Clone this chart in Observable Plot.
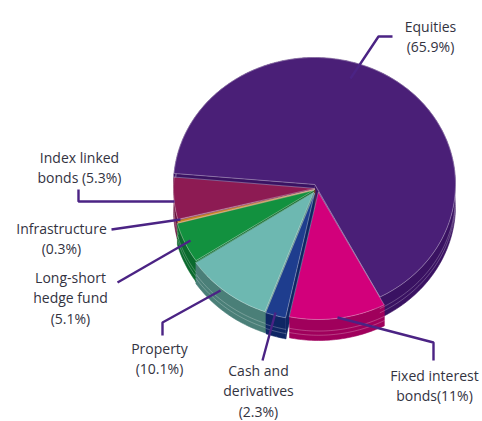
<!DOCTYPE html>
<html>
<head>
<meta charset="utf-8">
<script src="https://cdn.jsdelivr.net/npm/d3@7"></script>
<script src="https://cdn.jsdelivr.net/npm/@observablehq/plot@0.6"></script>
<style>
  html, body { margin: 0; padding: 0; background: #ffffff; }
  #chart { width: 482px; height: 421px; }
</style>
</head>
<body>
<div id="chart"></div>
<script>
// ---------- DATA ----------
const categories = ["Equities", "Fixed interest bonds", "Cash and derivatives", "Property",
                    "Long-short hedge fund", "Infrastructure", "Index linked bonds"];
const shares = [65.9, 11, 2.3, 10.1, 5.1, 0.3, 5.3];
const labelLines = ["Equities\n(65.9%)", "Fixed interest\nbonds(11%)", "Cash and\nderivatives\n(2.3%)",
                    "Property\n(10.1%)", "Long-short\nhedge fund\n(5.1%)", "Infrastructure\n(0.3%)",
                    "Index linked\nbonds (5.3%)"];

// ---------- STYLE / LAYOUT ----------
const topColors  = ["#4a1f77", "#d2007b", "#1e3d8e", "#6db8b1", "#12913f", "#c88420", "#8d1b53"];
const sideColors = ["#3a1262", "#a0005c", "#0f2664", "#4a7f78", "#0a6a2d", "#93601a", "#6a0f3c"];
const explode = [[0, 0], [4, 8], [0, 9], [-1, 8], [-1, 6], [0, 5], [0, 4]];
const geom = { cx: 314, cy: 184, rx: 141, ry: 127, depth: 21, start: -85 };
const labelPos = [[430, 17], [434, 366], [258, 361], [159, 339], [70, 268], [61, 219], [79, 148]];
const leaderPaths = [
  [[350, 78], [378, 36], [392, 36]],
  [[337, 317], [433, 342], [433, 360]],
  [[262, 360], [275, 312]],
  [[162, 335], [162, 322], [220, 290]],
  [[117, 282], [190, 240]],
  [[111, 229], [180, 219]],
  [[78, 189], [78, 201], [174, 201]]
];

// ---------- GEOMETRY ----------
const rad = d => d * Math.PI / 180;
const total = d3.sum(shares);
let acc = geom.start;
const slices = shares.map((v, i) => {
  const a0 = acc, a1 = acc + v / total * 360;
  acc = a1;
  return { i, a0, a1, mid: (a0 + a1) / 2 };
});
function pt(a, r, dz, off) {
  return { x: geom.cx + off[0] + geom.rx * r * Math.sin(rad(a)),
           y: geom.cy + off[1] - geom.ry * r * Math.cos(rad(a)) + dz };
}
function arc(a0, a1, dz, off) {
  const n = Math.max(2, Math.ceil(Math.abs(a1 - a0)) + 1);
  return d3.range(n).map(k => pt(a0 + (a1 - a0) * k / (n - 1), 1, dz, off));
}
// painter order: back to front
const order = slices.slice().sort((a, b) => (-Math.cos(rad(a.mid))) - (-Math.cos(rad(b.mid))));

const solidRows = [], rimLineRows = [], topRows = [];
order.forEach(s => {
  const off = explode[s.i], D = geom.depth;
  const c0 = pt(0, 0, 0, off), c1 = pt(0, 0, D, off);
  if (Math.sin(rad(s.a0)) < 0) {
    const w = [c0, pt(s.a0, 1, 0, off), pt(s.a0, 1, D, off), c1];
    w.forEach(p => solidRows.push({ id: "w0-" + s.i, ...p, fill: sideColors[s.i] }));
  }
  if (Math.sin(rad(s.a1)) > 0) {
    const w = [c0, pt(s.a1, 1, 0, off), pt(s.a1, 1, D, off), c1];
    w.forEach(p => solidRows.push({ id: "w1-" + s.i, ...p, fill: sideColors[s.i] }));
  }
  const band = arc(s.a0, s.a1, 0, off).concat(arc(s.a1, s.a0, D, off));
  band.forEach(p => solidRows.push({ id: "r-" + s.i, ...p, fill: sideColors[s.i] }));
  arc(s.a0, s.a1, D * 0.55, off).forEach(p => rimLineRows.push({ id: "h-" + s.i, ...p }));
  arc(s.a0, s.a1, D * 0.75, off).forEach(p => rimLineRows.push({ id: "h2-" + s.i, ...p }));
  [c0, ...arc(s.a0, s.a1, 0, off)].forEach(p => topRows.push({ id: "t-" + s.i, ...p, fill: topColors[s.i] }));
});

const leaderRows = [];
leaderPaths.forEach((path, i) => path.forEach(([x, y]) => leaderRows.push({ id: categories[i], x, y })));
const labelRows = categories.map((c, i) => ({ name: c, text: labelLines[i], x: labelPos[i][0], y: labelPos[i][1] }));

const font = "'Open Sans', Lato, sans-serif";
const chart = Plot.plot({
  width: 482, height: 421,
  margin: 0,
  x: { domain: [0, 482], range: [0, 482], axis: null },
  y: { domain: [0, 421], range: [0, 421], axis: null },
  color: { type: "identity" },
  style: { background: "#ffffff", fontFamily: font },
  marks: [
    Plot.line(solidRows, { x: "x", y: "y", z: "id", fill: "fill", stroke: "fill", strokeWidth: 0.6, curve: "linear-closed" }),
    Plot.line(rimLineRows, { x: "x", y: "y", z: "id", stroke: "#ffffff", strokeOpacity: 0.35, strokeWidth: 0.7 }),
    Plot.line(topRows, { x: "x", y: "y", z: "id", fill: "fill", stroke: "#ffffff", strokeOpacity: 0.4, strokeWidth: 0.8, curve: "linear-closed" }),
    Plot.line(leaderRows, { x: "x", y: "y", z: "id", stroke: "#4b2384", strokeWidth: 2.4, strokeLinecap: "butt", strokeLinejoin: "miter" }),
    Plot.text(labelRows, { x: "x", y: "y", text: "text", lineAnchor: "top", textAnchor: "middle",
      fontSize: 14, lineHeight: 1.45, fill: "#33333f", fontFamily: font })
  ]
});
document.getElementById("chart").appendChild(chart);
</script>
</body>
</html>
